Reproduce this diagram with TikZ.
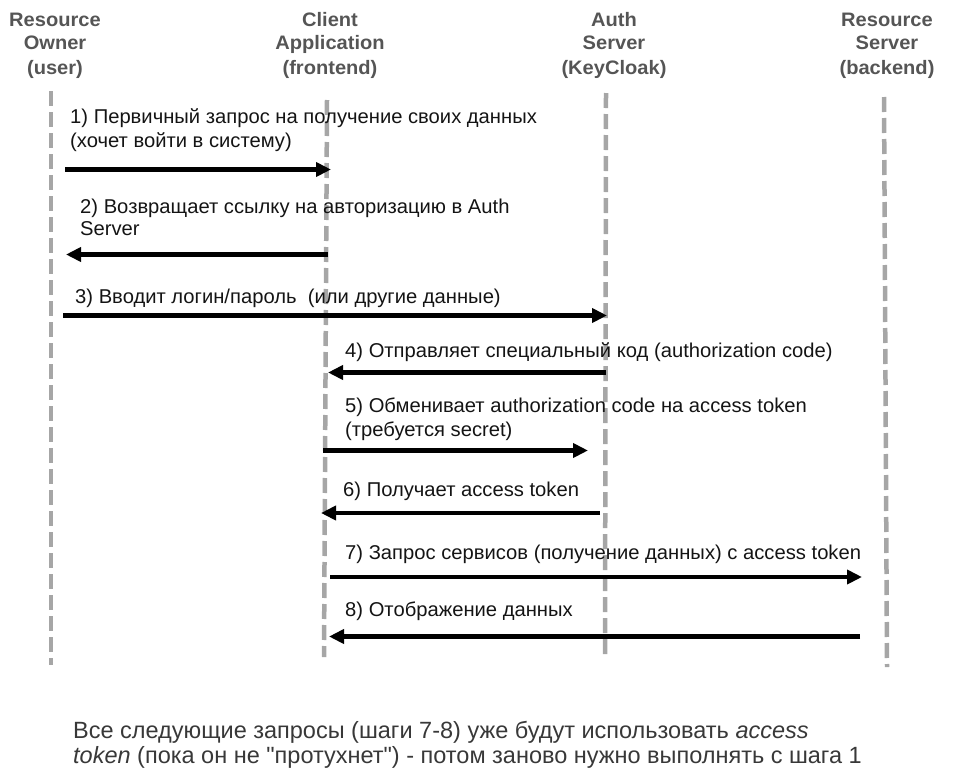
\documentclass[tikz,border=0pt]{standalone}
\usepackage{fontspec}
\setmainfont{Liberation Sans}
\newfontfamily\lblfont[FakeStretch=1.01]{Liberation Sans}
\newfontfamily\hdrfont[FakeStretch=1.03]{Liberation Sans}
\newfontfamily\notefont[Ligatures=TeXOff]{Liberation Sans}
\usetikzlibrary{arrows.meta}
\definecolor{hdrgray}{HTML}{555555}
\definecolor{lifegray}{HTML}{A6A6A6}
\definecolor{notegray}{HTML}{383838}
\begin{document}
\begin{tikzpicture}[x=1pt,y=-1pt,
  hdr/.style={font=\hdrfont\bfseries\fontsize{19.5}{24}\selectfont, text=hdrgray, align=center, anchor=base, inner sep=0pt},
  lifeline/.style={draw=lifegray, line width=4.5pt, dash pattern=on 15pt off 6pt},
  msg/.style={line width=4.6pt, -{Triangle[length=15pt,width=14pt]}},
  lbl/.style={font=\lblfont\fontsize{20}{24}\selectfont, anchor=base west, inner sep=0pt, text=black!92},
  note/.style={font=\notefont\fontsize{23.5}{25}\selectfont, anchor=base west, inner sep=0pt, text=notegray}
]
\useasboundingbox (0,0) rectangle (955,771);

% headers
\node[hdr] (hUser) at (55,74) {Resource\\Owner\\(user)};
\node[hdr] (hClient) at (330,74) {Client\\Application\\(frontend)};
\node[hdr] (hAuth) at (614,74) {Auth\\Server\\(KeyCloak)};
\node[hdr] (hRes) at (887,74) {Resource\\Server\\(backend)};

% lifelines
\coordinate (uT) at (51,91);  \coordinate (uB) at (51,665);
\coordinate (cT) at (327,100); \coordinate (cB) at (324,657);
\coordinate (aT) at (606,93); \coordinate (aB) at (605,659);
\coordinate (rT) at (884,97); \coordinate (rB) at (887,667);
\draw[lifeline] (uT) -- (uB);
\draw[lifeline] (cT) -- (cB);
\draw[lifeline] (aT) -- (aB);
\draw[lifeline] (rT) -- (rB);

% message end points
\coordinate (m1s) at (65,169.5);  \coordinate (m1e) at (331,169.5);
\coordinate (m2s) at (328,254.5); \coordinate (m2e) at (66,254.5);
\coordinate (m3s) at (63,315.5);  \coordinate (m3e) at (607,315.5);
\coordinate (m4s) at (606,372.5); \coordinate (m4e) at (328,372.5);
\coordinate (m5s) at (323,450.5); \coordinate (m5e) at (588,450.5);
\coordinate (m6s) at (600,513);   \coordinate (m6e) at (321,513);
\coordinate (m7s) at (330,577);   \coordinate (m7e) at (862,577);
\coordinate (m8s) at (860,636.5); \coordinate (m8e) at (329,636.5);

\draw[msg] (m1s) -- (m1e);
\draw[msg] (m2s) -- (m2e);
\draw[msg] (m3s) -- (m3e);
\draw[msg] (m4s) -- (m4e);
\draw[msg] (m5s) -- (m5e);
\draw[msg] (m6s) -- (m6e);
\draw[msg] (m7s) -- (m7e);
\draw[msg] (m8s) -- (m8e);

% labels
\node[lbl] (l1a) at (70,123) {1) Первичный запрос на получение своих данных};
\node[lbl] (l1b) at (70,147) {(хочет войти в систему)};
\node[lbl] (l2a) at (80,213) {2) Возвращает ссылку на авторизацию в Auth};
\node[lbl] (l2b) at (80,235) {Server};
\node[lbl] (l3) at (75,303) {3) Вводит логин/пароль\ \ (или другие данные)};
\node[lbl] (l4) at (345,357) {4) Отправляет специальный код (authorization code)};
\node[lbl] (l5a) at (345,412) {5) Обменивает authorization code на access token};
\node[lbl] (l5b) at (345,436) {(требуется secret)};
\node[lbl] (l6) at (343,496) {6) Получает access token};
\node[lbl] (l7) at (345,559) {7) Запрос сервисов (получение данных) с access token};
\node[lbl] (l8) at (345,616) {8) Отображение данных};

% note
\node[note] (n1) at (73,738) {Все следующие запросы (шаги 7-8) уже будут использовать \textit{access}};
\node[note] (n2) at (73,763) {\textit{token} (пока он не "протухнет") - потом заново нужно выполнять с шага 1};
\end{tikzpicture}
\end{document}
